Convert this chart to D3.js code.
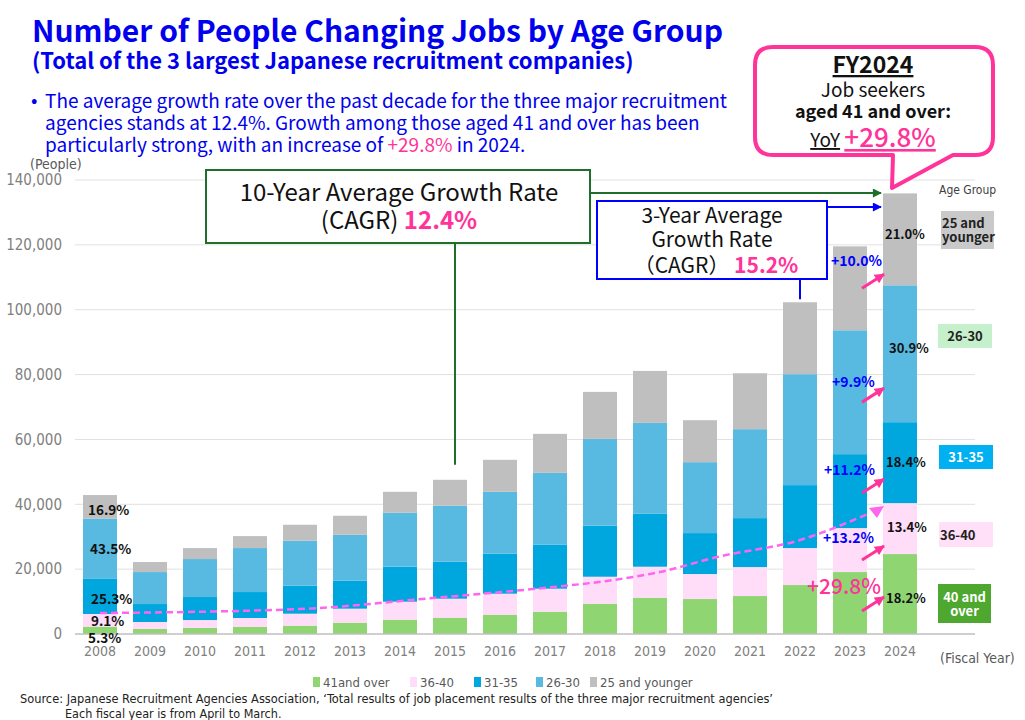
<!DOCTYPE html>
<html>
<head>
<meta charset="utf-8">
<script src="https://cdn.jsdelivr.net/npm/d3@7"></script>
<style>
body { margin: 0; background: #fff; }
svg text { font-family: "Noto Sans CJK JP", "Noto Sans", sans-serif; }
svg text.narrow { font-family: "Liberation Sans Narrow", "DejaVu Sans Condensed", "Noto Sans CJK JP", sans-serif; }
</style>
</head>
<body>
<div id="chart"></div>
<script>
// fiscal years and people per age group
const years = [2008, 2009, 2010, 2011, 2012, 2013, 2014, 2015, 2016, 2017, 2018, 2019, 2020, 2021, 2022, 2023, 2024];
const over41  = [2270, 1540, 1850, 2160, 2570, 3490, 4420, 5030, 5960, 6880, 9350, 11190, 10780, 11710, 15100, 19100, 24650];
const age3640 = [3900, 2160, 2460, 2770, 3690, 4320, 5540, 5860, 6470, 7090, 8310, 9560, 7710, 8930, 11400, 13560, 15710];
const age3135 = [10830, 5540, 7090, 8010, 8630, 8620, 10790, 11400, 12320, 13550, 15720, 16320, 12630, 15100, 19410, 22800, 24960];
const age2630 = [18620, 9860, 11710, 13560, 13870, 14170, 16630, 17250, 19100, 22190, 26800, 28040, 21870, 27420, 34200, 38200, 42210];
const under25 = [7230, 3090, 3390, 3690, 4930, 5860, 6470, 8010, 9860, 12010, 14480, 16020, 12940, 17250, 22180, 25880, 28340];

const keys = ["over41", "age3640", "age3135", "age2630", "under25"];
const legendLabels = ["41and over", "36-40", "31-35", "26-30", "25 and younger"];
const colors = ["#8fd672", "#ffdcf8", "#00a7de", "#58b9e1", "#bfbfbf"];
const yTicks = [0, 20000, 40000, 60000, 80000, 100000, 120000, 140000];

// dashed trend line (fiscal year, people)
const trendPts = [[2008, 6470], [2012, 7700], [2014.66, 11100], [2016.66, 13870], [2018.26, 16640],
                  [2019.2, 19110], [2020.34, 23730], [2022, 28970], [2023.4, 37300]];

// 2008 shares, 2024 shares, YoY growth for 2024
const shares2008 = [["16.9%", 36680], ["43.5%", 24660], ["25.3%", 9250], ["9.1%", 2470], ["5.3%", -2770]];
const shares2024 = [["21.0%", 121740], ["30.9%", 86600], ["18.4%", 51470], ["13.4%", 31440], ["18.2%", 9550]];
const yoy2024 = [["+10.0%", 110950], ["+9.9%", 75820], ["+11.2%", 47770], ["+13.2%", 27120], ["+29.8%", 11400]];

const table = years.map((yr, i) => ({
    year: yr,
    over41: over41[i], age3640: age3640[i], age3135: age3135[i], age2630: age2630[i], under25: under25[i]
}));

const svg = d3.select("#chart")
    .append("svg")
    .attr("width", 1025)
    .attr("height", 720)
    .style("background", "#fff");

const defs = svg.append("defs");
function arrowMarker(id, color, w, h) {
    defs.append("marker")
        .attr("id", id)
        .attr("markerUnits", "userSpaceOnUse")
        .attr("viewBox", "0 0 10 10")
        .attr("refX", 9).attr("refY", 5)
        .attr("markerWidth", w).attr("markerHeight", h)
        .attr("orient", "auto")
        .append("path")
        .attr("d", "M0,0 L10,5 L0,10 Z")
        .attr("fill", color);
}
arrowMarker("arrGreen", "#1f6e2a", 10, 9);
arrowMarker("arrBlue", "#0000ff", 10, 9);
arrowMarker("arrPink", "#ff3399", 11, 10);

const x = d3.scaleBand().domain(years).range([75, 925]).paddingInner(0.32).paddingOuter(0.16);
const y = d3.scaleLinear().domain([0, 140000]).range([634, 180]);
const xc = d3.scaleLinear().domain([2008, 2024])
    .range([x(2008) + x.bandwidth() / 2, x(2024) + x.bandwidth() / 2]);

// gridlines
svg.append("g").selectAll("line")
    .data(yTicks.slice(1))
    .enter().append("line")
    .attr("x1", 75).attr("x2", 975)
    .attr("y1", d => y(d)).attr("y2", d => y(d))
    .style("stroke", "#e0e0e0").style("stroke-width", 1);

// y axis
const yAxis = svg.append("g")
    .attr("transform", "translate(74,0)")
    .call(d3.axisLeft(y).tickValues(yTicks).tickFormat(d3.format(",")).tickSize(0).tickPadding(12));
yAxis.select(".domain").remove();
yAxis.selectAll("text")
    .attr("class", "narrow")
    .style("font-size", "15px")
    .style("fill", "#808080");

// bars
const stack = d3.stack().keys(keys)(table);
svg.append("g").selectAll("g")
    .data(stack)
    .enter().append("g")
    .style("fill", (d, i) => colors[i])
    .selectAll("rect")
    .data(d => d)
    .enter().append("rect")
    .attr("x", d => x(d.data.year))
    .attr("width", x.bandwidth())
    .attr("y", d => y(d[1]))
    .attr("height", d => y(d[0]) - y(d[1]));

// x axis
const xAxis = svg.append("g")
    .attr("transform", "translate(0,634)")
    .call(d3.axisBottom(x).tickSize(0).tickPadding(12));
xAxis.select(".domain").remove();
xAxis.selectAll("text")
    .attr("class", "narrow")
    .style("font-size", "14px")
    .style("fill", "#808080");
svg.append("line")
    .attr("x1", 75).attr("x2", 975).attr("y1", 634).attr("y2", 634)
    .style("stroke", "#bfbfbf").style("stroke-width", 1.5);

// dashed trend
const trendLine = d3.line().x(d => xc(d[0])).y(d => y(d[1])).curve(d3.curveMonotoneX);
svg.append("path")
    .attr("d", trendLine(trendPts))
    .style("fill", "none")
    .style("stroke", "#ff66f0")
    .style("stroke-width", 2.5)
    .style("stroke-dasharray", "7,4");
const tEnd = trendPts[trendPts.length - 1];
const tx = xc(tEnd[0]), ty = y(tEnd[1]);
svg.append("path")
    .attr("d", `M${tx - 1},${ty - 5} L${tx + 14},${ty - 7} L${tx + 7},${ty + 5} Z`)
    .style("fill", "#ff66f0");

// axis titles
svg.append("text").attr("class", "narrow").attr("x", 30).attr("y", 169)
    .style("font-size", "14px").style("fill", "#595959").text("(People)");
svg.append("text").attr("class", "narrow").attr("x", 940).attr("y", 663)
    .style("font-size", "14px").style("fill", "#595959").text("(Fiscal Year)");
svg.append("text").attr("class", "narrow").attr("x", 939).attr("y", 194)
    .style("font-size", "12px").style("fill", "#404040").text("Age Group");

// title block
svg.append("text").attr("x", 32).attr("y", 42)
    .style("font-size", "30px").style("font-weight", "bold").style("fill", "#0000ee")
    .text("Number of People Changing Jobs by Age Group");
svg.append("text").attr("x", 32).attr("y", 69)
    .style("font-size", "22px").style("font-weight", "bold").style("fill", "#0000ee")
    .text("(Total of the 3 largest Japanese recruitment companies)");

const bullet = ["The average growth rate over the past decade for the three major recruitment",
                "agencies stands at 12.4%. Growth among those aged 41 and over has been",
                "particularly strong, with an increase of "];
svg.append("text").attr("x", 31).attr("y", 107)
    .style("font-size", "19px").style("fill", "#0000ee").text("•");
bullet.forEach((line, i) => {
    const t = svg.append("text").attr("x", 45).attr("y", 108 + i * 22)
        .style("font-size", "19px").style("fill", "#0000ee").text(line);
    if (i === 2) {
        t.append("tspan").style("fill", "#ff3399").text("+29.8%");
        t.append("tspan").text(" in 2024.");
    }
});

// 2008 share labels
svg.append("g").selectAll("text")
    .data(shares2008)
    .enter().append("text")
    .attr("x", (d, i) => x(2008) + [5, 7, 8, 8, 5][i])
    .attr("y", d => y(d[1]))
    .style("font-size", "13.5px").style("font-weight", "bold").style("fill", "#111")
    .text(d => d[0]);

// 2024 share labels
svg.append("g").selectAll("text")
    .data(shares2024)
    .enter().append("text")
    .attr("x", (d, i) => x(2024) + [2, 6, 3, 4, 3][i])
    .attr("y", d => y(d[1]))
    .style("font-size", "13px").style("font-weight", "bold").style("fill", "#111")
    .text(d => d[0]);

// yoy labels and arrows
const yoyX = [-52, -51, -59, -60, -76];
const yoyDy = [-8, -1, -4, -3, -3];
svg.append("g").selectAll("text")
    .data(yoy2024)
    .enter().append("text")
    .attr("x", (d, i) => x(2024) + yoyX[i])
    .attr("y", (d, i) => y(d[1]) + yoyDy[i])
    .style("font-size", (d, i) => i === 4 ? "21px" : "14px")
    .style("font-weight", (d, i) => i === 4 ? "500" : "bold")
    .style("fill", (d, i) => i === 4 ? "#ff3399" : "#0000ff")
    .text(d => d[0]);
svg.append("g").selectAll("line")
    .data(yoy2024)
    .enter().append("line")
    .attr("x1", x(2024) - 21).attr("y1", d => y(d[1]) + 14)
    .attr("x2", x(2024) + 1).attr("y2", d => y(d[1]))
    .style("stroke", "#ff3399").style("stroke-width", 3)
    .attr("marker-end", "url(#arrPink)");

// 10-year CAGR box
svg.append("line").attr("x1", 455).attr("y1", 243).attr("x2", 455).attr("y2", y(47550) - 15)
    .style("stroke", "#1f6e2a").style("stroke-width", 2);
svg.append("line").attr("x1", 590).attr("y1", 193).attr("x2", x(2024) - 2).attr("y2", 193)
    .style("stroke", "#1f6e2a").style("stroke-width", 2).attr("marker-end", "url(#arrGreen)");
svg.append("rect").attr("x", 206).attr("y", 170).attr("width", 384).attr("height", 73)
    .style("fill", "#fff").style("stroke", "#1f6e2a").style("stroke-width", 2);
svg.append("text").attr("x", 399).attr("y", 201).attr("text-anchor", "middle")
    .style("font-size", "24px").style("fill", "#111").text("10-Year Average Growth Rate");
const c10 = svg.append("text").attr("x", 399).attr("y", 229).attr("text-anchor", "middle")
    .style("font-size", "24px").style("fill", "#111").text("(CAGR) ");
c10.append("tspan").style("font-weight", "bold").style("fill", "#ff3399").text("12.4%");

// 3-year CAGR box
svg.append("line").attr("x1", 800).attr("y1", 279).attr("x2", 800).attr("y2", y(102290) - 3)
    .style("stroke", "#0000ff").style("stroke-width", 2);
svg.append("line").attr("x1", 827).attr("y1", 207).attr("x2", x(2024) - 2).attr("y2", 207)
    .style("stroke", "#0000ff").style("stroke-width", 2).attr("marker-end", "url(#arrBlue)");
svg.append("rect").attr("x", 597).attr("y", 201).attr("width", 230).attr("height", 78)
    .style("fill", "#fff").style("stroke", "#0000ff").style("stroke-width", 2);
["3-Year Average", "Growth Rate"].forEach((s, i) => {
    svg.append("text").attr("x", 712).attr("y", 223 + i * 24).attr("text-anchor", "middle")
        .style("font-size", "21px").style("fill", "#111").text(s);
});
const c3 = svg.append("text").attr("x", 716).attr("y", 273).attr("text-anchor", "middle")
    .style("font-size", "21px").style("fill", "#111").text("（CAGR） ");
c3.append("tspan").style("font-weight", "bold").style("fill", "#ff3399").text("15.2%");

// FY2024 callout
const L = 755, R = 993, T = 47, B = 155, r = 18;
svg.append("path")
    .attr("d", `M${L + r},${T} H${R - r} Q${R},${T} ${R},${T + r} V${B - r} Q${R},${B} ${R - r},${B}
                H953 L892,188 L893,${B} H${L + r} Q${L},${B} ${L},${B - r} V${T + r} Q${L},${T} ${L + r},${T} Z`)
    .style("fill", "#fff").style("stroke", "#ff3399").style("stroke-width", 4)
    .style("stroke-linejoin", "round");
svg.append("text").attr("x", 873).attr("y", 73).attr("text-anchor", "middle")
    .style("font-size", "23px").style("font-weight", "bold").style("fill", "#111")
    .style("text-decoration", "underline").text("FY2024");
svg.append("text").attr("x", 873).attr("y", 97).attr("text-anchor", "middle")
    .style("font-size", "19px").style("fill", "#111").text("Job seekers");
svg.append("text").attr("x", 873).attr("y", 118).attr("text-anchor", "middle")
    .style("font-size", "18px").style("font-weight", "bold").style("fill", "#111").text("aged 41 and over:");
const yoyT = svg.append("text").attr("x", 873).attr("y", 147).attr("text-anchor", "middle")
    .style("font-size", "19px").style("fill", "#111");
yoyT.append("tspan").style("text-decoration", "underline").text("YoY");
yoyT.append("tspan").text(" ");
yoyT.append("tspan").style("font-size", "26px").style("font-weight", "500").style("fill", "#ff3399")
    .style("text-decoration", "underline").text("+29.8%");

// age group boxes on the right
const ageBoxes = [
    { lines: ["25 and", "younger"], fill: "#c9c9c9", color: "#222", x: 941, y: 211, w: 53, h: 38, anchor: "start" },
    { lines: ["26-30"], fill: "#c6efcb", color: "#222", x: 938, y: 324, w: 54, h: 24, anchor: "middle" },
    { lines: ["31-35"], fill: "#00b0f0", color: "#fff", x: 939, y: 445, w: 54, h: 24, anchor: "middle" },
    { lines: ["36-40"], fill: "#ffe0f8", color: "#222", x: 939, y: 522, w: 54, h: 25, anchor: "start" },
    { lines: ["40 and", "over"], fill: "#4ea72e", color: "#fff", x: 938, y: 584, w: 53, h: 39, anchor: "middle" }
];
ageBoxes.forEach(b => {
    svg.append("rect").attr("x", b.x).attr("y", b.y).attr("width", b.w).attr("height", b.h)
        .style("fill", b.fill);
    const n = b.lines.length;
    b.lines.forEach((s, i) => {
        svg.append("text")
            .attr("x", b.anchor === "middle" ? b.x + b.w / 2 : b.x + 1)
            .attr("y", b.y + b.h / 2 + 5 + (i - (n - 1) / 2) * 14)
            .attr("text-anchor", b.anchor)
            .style("font-size", "13px").style("font-weight", "bold").style("fill", b.color)
            .text(s);
    });
});

// legend
const legendX = [313, 410, 474, 536, 590];
const lg = svg.append("g").selectAll("g")
    .data(legendLabels)
    .enter().append("g")
    .attr("transform", (d, i) => `translate(${legendX[i]},677)`);
lg.append("rect").attr("width", 7).attr("height", 10).style("fill", (d, i) => colors[i]);
lg.append("text").attr("class", "narrow").attr("x", 10).attr("y", 10)
    .style("font-size", "13px").style("fill", "#595959").text(d => d);

// source
svg.append("text").attr("class", "narrow").attr("x", 20).attr("y", 703)
    .attr("textLength", 753).attr("lengthAdjust", "spacingAndGlyphs")
    .style("font-size", "13px").style("fill", "#222")
    .text("Source: Japanese Recruitment Agencies Association, ‘Total results of job placement results of the three major recruitment agencies’");
svg.append("text").attr("class", "narrow").attr("x", 65).attr("y", 718)
    .style("font-size", "12.5px").style("fill", "#222")
    .text("Each fiscal year is from April to March.");
</script>
</body>
</html>
